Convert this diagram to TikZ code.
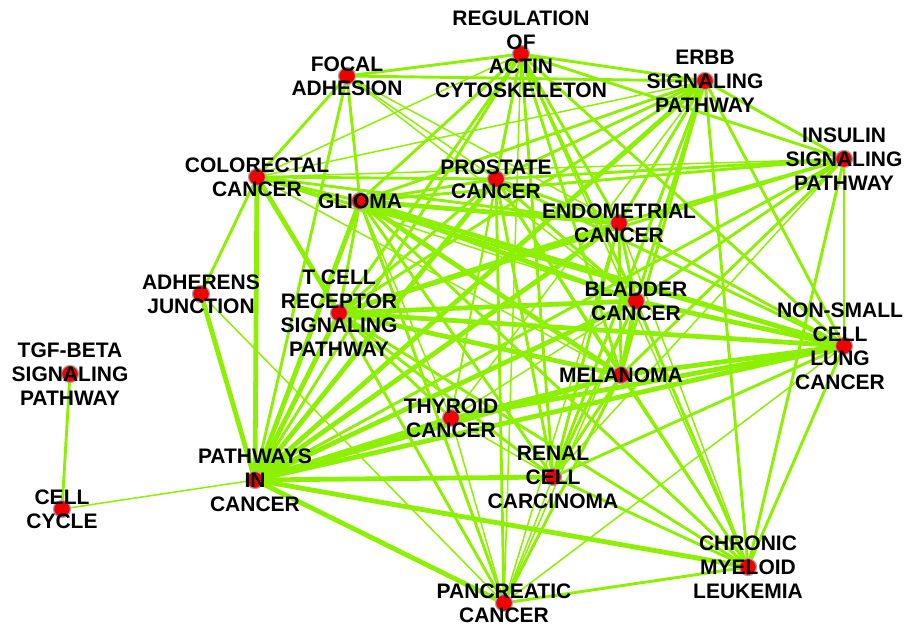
\documentclass[tikz,border=0pt]{standalone}
\usepackage{fontspec}
\setmainfont{Liberation Sans}
\pgfdeclarelayer{background}
\pgfsetlayers{background,main}
\definecolor{linkgreen}{RGB}{140,240,0}
\definecolor{dotred}{RGB}{240,0,0}
\tikzstyle{hub}=[circle,fill=dotred,draw=gray!70,line width=1.2pt,minimum size=17pt,inner sep=0pt]
\tikzstyle{tag}=[align=center,inner sep=0pt,font=\fontsize{21}{24}\selectfont\bfseries]
\tikzstyle{wide}=[draw=linkgreen,line width=4.8pt]
\tikzstyle{mid}=[draw=linkgreen,line width=2.9pt]
\tikzstyle{fine}=[draw=linkgreen,line width=1.5pt]

\begin{document}
\begin{tikzpicture}[x=1pt,y=-1pt]
  \useasboundingbox (0,0) rectangle (904,626);
  % pathway dots
  \node[hub] (actin) at (521,54) {};
  \node[hub] (focal) at (347,76) {};
  \node[hub] (erbb) at (705,81) {};
  \node[hub] (insulin) at (844,159) {};
  \node[hub] (colorectal) at (257,177) {};
  \node[hub] (prostate) at (496,179) {};
  \node[hub] (glioma) at (360,201) {};
  \node[hub] (endometrial) at (619,223) {};
  \node[hub] (adherens) at (201,294) {};
  \node[hub] (tcell) at (339,313) {};
  \node[hub] (bladder) at (636,301) {};
  \node[hub] (nsclc) at (844,346) {};
  \node[hub] (melanoma) at (621,375) {};
  \node[hub] (tgfbeta) at (70,374) {};
  \node[hub] (thyroid) at (451,418) {};
  \node[hub] (pathways) at (255,480) {};
  \node[hub] (renal) at (553,477) {};
  \node[hub] (cellcycle) at (62,509) {};
  \node[hub] (cml) at (748,567) {};
  \node[hub] (pancreatic) at (504,603) {};

  % overlaps
  \begin{pgfonlayer}{background}
    \foreach \a/\b in {pathways/adherens, pathways/colorectal, pathways/glioma, pathways/tcell,
      pathways/prostate, pathways/erbb, pathways/endometrial, pathways/bladder, pathways/nsclc,
      pathways/melanoma, pathways/thyroid, pathways/renal, pathways/cml, pathways/pancreatic,
      colorectal/tcell, glioma/endometrial, glioma/bladder, glioma/nsclc, glioma/melanoma,
      endometrial/tcell, bladder/melanoma, bladder/nsclc, bladder/tcell, tcell/melanoma,
      tcell/nsclc, melanoma/nsclc, nsclc/thyroid}
      \draw[wide] (\a) -- (\b);
    \foreach \a/\b in {tgfbeta/cellcycle, pathways/focal, pathways/actin, pathways/insulin,
      adherens/colorectal, colorectal/focal, colorectal/glioma, colorectal/prostate,
      colorectal/endometrial, colorectal/nsclc, focal/actin, focal/erbb, focal/glioma,
      actin/erbb, actin/insulin, actin/glioma, actin/prostate, actin/endometrial, actin/bladder,
      actin/melanoma, actin/nsclc, actin/renal, actin/tcell, erbb/insulin, erbb/glioma,
      erbb/prostate, erbb/endometrial, erbb/bladder, erbb/melanoma, erbb/nsclc, erbb/cml,
      erbb/renal, erbb/tcell, insulin/prostate, insulin/glioma, insulin/endometrial,
      insulin/bladder, insulin/cml, insulin/melanoma, insulin/tcell, glioma/prostate,
      glioma/tcell, glioma/renal, glioma/cml, glioma/pancreatic, prostate/endometrial,
      prostate/bladder, prostate/tcell, prostate/nsclc, prostate/melanoma, prostate/renal,
      prostate/pancreatic, endometrial/bladder, endometrial/melanoma, endometrial/nsclc,
      endometrial/renal, bladder/renal, bladder/cml, tcell/thyroid, tcell/renal, tcell/cml,
      tcell/pancreatic, melanoma/thyroid, melanoma/renal, melanoma/cml, melanoma/pancreatic,
      nsclc/renal, nsclc/cml, renal/cml, cml/pancreatic}
      \draw[mid] (\a) -- (\b);
    \foreach \a/\b in {cellcycle/pathways, adherens/pancreatic, colorectal/actin,
      colorectal/bladder, colorectal/melanoma, colorectal/insulin, colorectal/erbb,
      focal/prostate, focal/endometrial, focal/bladder, actin/thyroid, actin/cml,
      actin/pancreatic, erbb/thyroid, insulin/nsclc, insulin/renal, glioma/thyroid,
      prostate/cml, prostate/thyroid, endometrial/cml, endometrial/pancreatic,
      bladder/pancreatic, bladder/thyroid, nsclc/pancreatic, thyroid/pancreatic,
      thyroid/renal, renal/pancreatic}
      \draw[fine] (\a) -- (\b);
  \end{pgfonlayer}

  % labels
  \node[tag] (actintag) at (actin) {REGULATION\\OF\\ACTIN\\CYTOSKELETON};
  \node[tag] (focaltag) at (focal) {FOCAL\\ADHESION};
  \node[tag] (erbbtag) at (erbb) {ERBB\\SIGNALING\\PATHWAY};
  \node[tag] (insulintag) at (insulin) {INSULIN\\SIGNALING\\PATHWAY};
  \node[tag] (colorectaltag) at (colorectal) {COLORECTAL\\CANCER};
  \node[tag] (prostatetag) at (prostate) {PROSTATE\\CANCER};
  \node[tag] (gliomatag) at (glioma) {GLIOMA};
  \node[tag] (endometrialtag) at (endometrial) {ENDOMETRIAL\\CANCER};
  \node[tag] (adherenstag) at (adherens) {ADHERENS\\JUNCTION};
  \node[tag] (tcelltag) at (tcell) {T CELL\\RECEPTOR\\SIGNALING\\PATHWAY};
  \node[tag] (bladdertag) at (bladder) {BLADDER\\CANCER};
  \node[tag,xshift=-4pt] (nsclctag) at (nsclc) {NON-SMALL\\CELL\\LUNG\\CANCER};
  \node[tag] (melanomatag) at (melanoma) {MELANOMA};
  \node[tag] (tgfbetatag) at (tgfbeta) {TGF-BETA\\SIGNALING\\PATHWAY};
  \node[tag] (thyroidtag) at (thyroid) {THYROID\\CANCER};
  \node[tag] (pathwaystag) at (pathways) {PATHWAYS\\IN\\CANCER};
  \node[tag] (renaltag) at (renal) {RENAL\\CELL\\CARCINOMA};
  \node[tag] (cellcycletag) at (cellcycle) {CELL\\CYCLE};
  \node[tag] (cmltag) at (cml) {CHRONIC\\MYELOID\\LEUKEMIA};
  \node[tag] (pancreatictag) at (pancreatic) {PANCREATIC\\CANCER};
\end{tikzpicture}
\end{document}
